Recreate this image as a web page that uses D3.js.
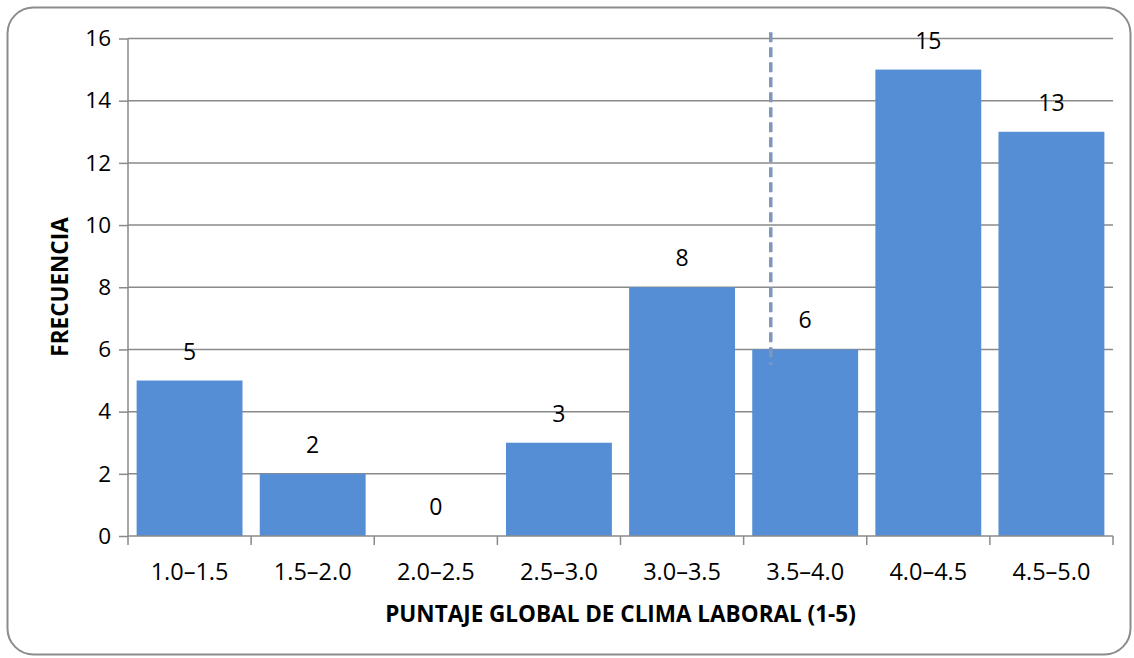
<!DOCTYPE html>
<html><head><meta charset="utf-8">
<script src="https://cdn.jsdelivr.net/npm/d3@7"></script>
<style>
body{margin:0;background:#fff;}
text{font-family:"Open Sans","Noto Sans",sans-serif;}
</style></head>
<body><svg id="c" width="1134" height="658"></svg>
<script>
const categories = ["1.0–1.5","1.5–2.0","2.0–2.5","2.5–3.0","3.0–3.5","3.5–4.0","4.0–4.5","4.5–5.0"];
const frequencies = [5,2,0,3,8,6,15,13];
const yTicks = [0,2,4,6,8,10,12,14,16];
const markerCategory = "3.5–4.0";
const markerTop = 16.2, markerBottom = 5.5;

const svg = d3.select("#c");
svg.append("rect").attr("x",7.5).attr("y",7.5).attr("width",1123).attr("height",647)
  .attr("rx",26).attr("ry",26).attr("fill","#fff").attr("stroke","#8c8c8c").attr("stroke-width",2);

const L=128, R=1113, T=38.5, B=536;
const x = d3.scaleBand().domain(categories).range([L,R]).paddingInner(0.14).paddingOuter(0.07);
const y = d3.scaleLinear().domain([0,16]).range([B,T]);

// gridlines
svg.append("g").selectAll("line").data(yTicks.filter(d=>d>0)).join("line")
  .attr("x1",L).attr("x2",R).attr("y1",d=>y(d)).attr("y2",d=>y(d))
  .attr("stroke","#8a8a8a").attr("stroke-width",1.5);

// bars
svg.append("g").selectAll("rect").data(frequencies).join("rect")
  .attr("x",(d,i)=>x(categories[i])).attr("width",x.bandwidth())
  .attr("y",d=>y(d)).attr("height",d=>B-y(d)).attr("fill","#558ed5");

// y axis
const ya = svg.append("g").attr("transform",`translate(${L},0)`)
  .call(d3.axisLeft(y).tickValues(yTicks).tickSize(9).tickPadding(8).tickFormat(d3.format("d")));
ya.select(".domain").attr("stroke","#8a8a8a").attr("stroke-width",1.5).attr("d",`M0,${T}V${B}`);
ya.selectAll(".tick line").attr("stroke","#8a8a8a").attr("stroke-width",1.5);
ya.selectAll(".tick text").attr("font-size",22.5).attr("fill","#000").style("font-family","'Open Sans',sans-serif");

// x axis
const bounds = categories.map(c=>x(c)-x.step()*x.paddingInner()/2).concat([R]);
const xa = svg.append("g").attr("transform",`translate(0,${B})`);
xa.append("line").attr("x1",L).attr("x2",R).attr("stroke","#8a8a8a").attr("stroke-width",1.5);
xa.selectAll("line.t").data([L].concat(bounds.slice(1))).join("line").attr("class","t")
  .attr("x1",d=>d).attr("x2",d=>d).attr("y1",0).attr("y2",9).attr("stroke","#8a8a8a").attr("stroke-width",1.5);
xa.selectAll("text").data(categories).join("text")
  .attr("x",d=>x(d)+x.bandwidth()/2).attr("y",43.5).attr("text-anchor","middle")
  .attr("font-size",23.5).attr("fill","#000").text(d=>d);

// value labels
svg.append("g").selectAll("text").data(frequencies).join("text")
  .attr("x",(d,i)=>x(categories[i])+x.bandwidth()/2).attr("y",d=>y(d)-21)
  .attr("text-anchor","middle").attr("font-size",23).attr("fill","#000").text(d=>d);

// dashed marker
const mx = x(markerCategory)+x.bandwidth()*0.175;
svg.append("line").attr("x1",mx).attr("x2",mx).attr("y1",y(markerTop)).attr("y2",y(markerBottom))
  .attr("stroke","#8096bd").attr("stroke-width",3.5).attr("stroke-dasharray","10,5");

// titles
svg.append("text").attr("x",(L+R)/2).attr("y",622).attr("text-anchor","middle")
  .attr("font-size",22.5).attr("font-weight","bold").text("PUNTAJE GLOBAL DE CLIMA LABORAL (1-5)");
svg.append("text").attr("transform","translate(68,287) rotate(-90)").attr("text-anchor","middle")
  .attr("font-size",22.5).attr("font-weight","bold").text("FRECUENCIA");
</script></body></html>
